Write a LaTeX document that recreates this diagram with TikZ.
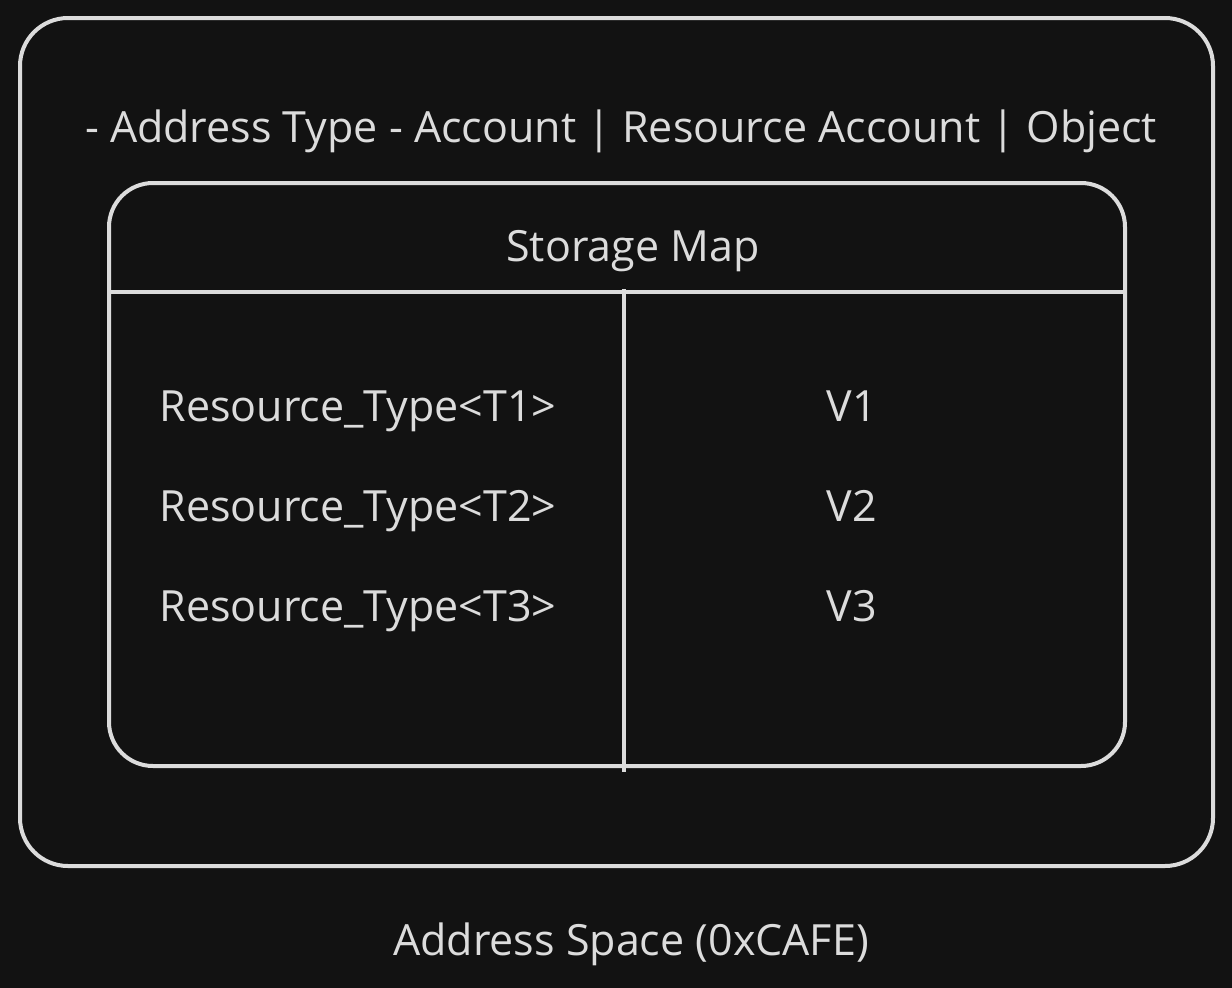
\documentclass[tikz,border=0pt]{standalone}
\usepackage{fontspec}
\setmainfont{Open Sans}
\definecolor{bg}{HTML}{121212}
\definecolor{ink}{HTML}{DCDCDC}
\begin{document}
\begin{tikzpicture}[x=1pt,y=-1pt,
  frame/.style={draw=ink,line width=4pt,rounded corners=48pt},
  rule/.style={draw=ink,line width=4pt},
  lbl/.style={text=ink,font=\fontsize{43}{50}\selectfont,inner sep=0pt,anchor=base}]
\fill[bg] (0,0) rectangle (1232,988);
\useasboundingbox (0,0) rectangle (1232,988);
\draw[frame] (20,18) rectangle (1213,866);
\draw[frame,rounded corners=44pt] (109,183) rectangle (1125,766);
\coordinate (hl) at (109,292);
\coordinate (hr) at (1125,292);
\coordinate (vt) at (624,289);
\coordinate (vb) at (624,772);
\draw[rule] (hl) -- (hr);
\draw[rule] (vt) -- (vb);
\node[lbl] (title) at (621,142) {- Address Type - Account | Resource Account | Object};
\node[lbl] (sm) at (633,261) {Storage Map};
\node[lbl] (k1) at (358,421) {Resource\_Type<T1>};
\node[lbl] (k2) at (358,521) {Resource\_Type<T2>};
\node[lbl] (k3) at (358,621) {Resource\_Type<T3>};
\node[lbl] (v1) at (852,421) {V1};
\node[lbl] (v2) at (852,521) {V2};
\node[lbl] (v3) at (852,621) {V3};
\node[lbl] (as) at (631,955) {Address Space (0xCAFE)};
\end{tikzpicture}
\end{document}
